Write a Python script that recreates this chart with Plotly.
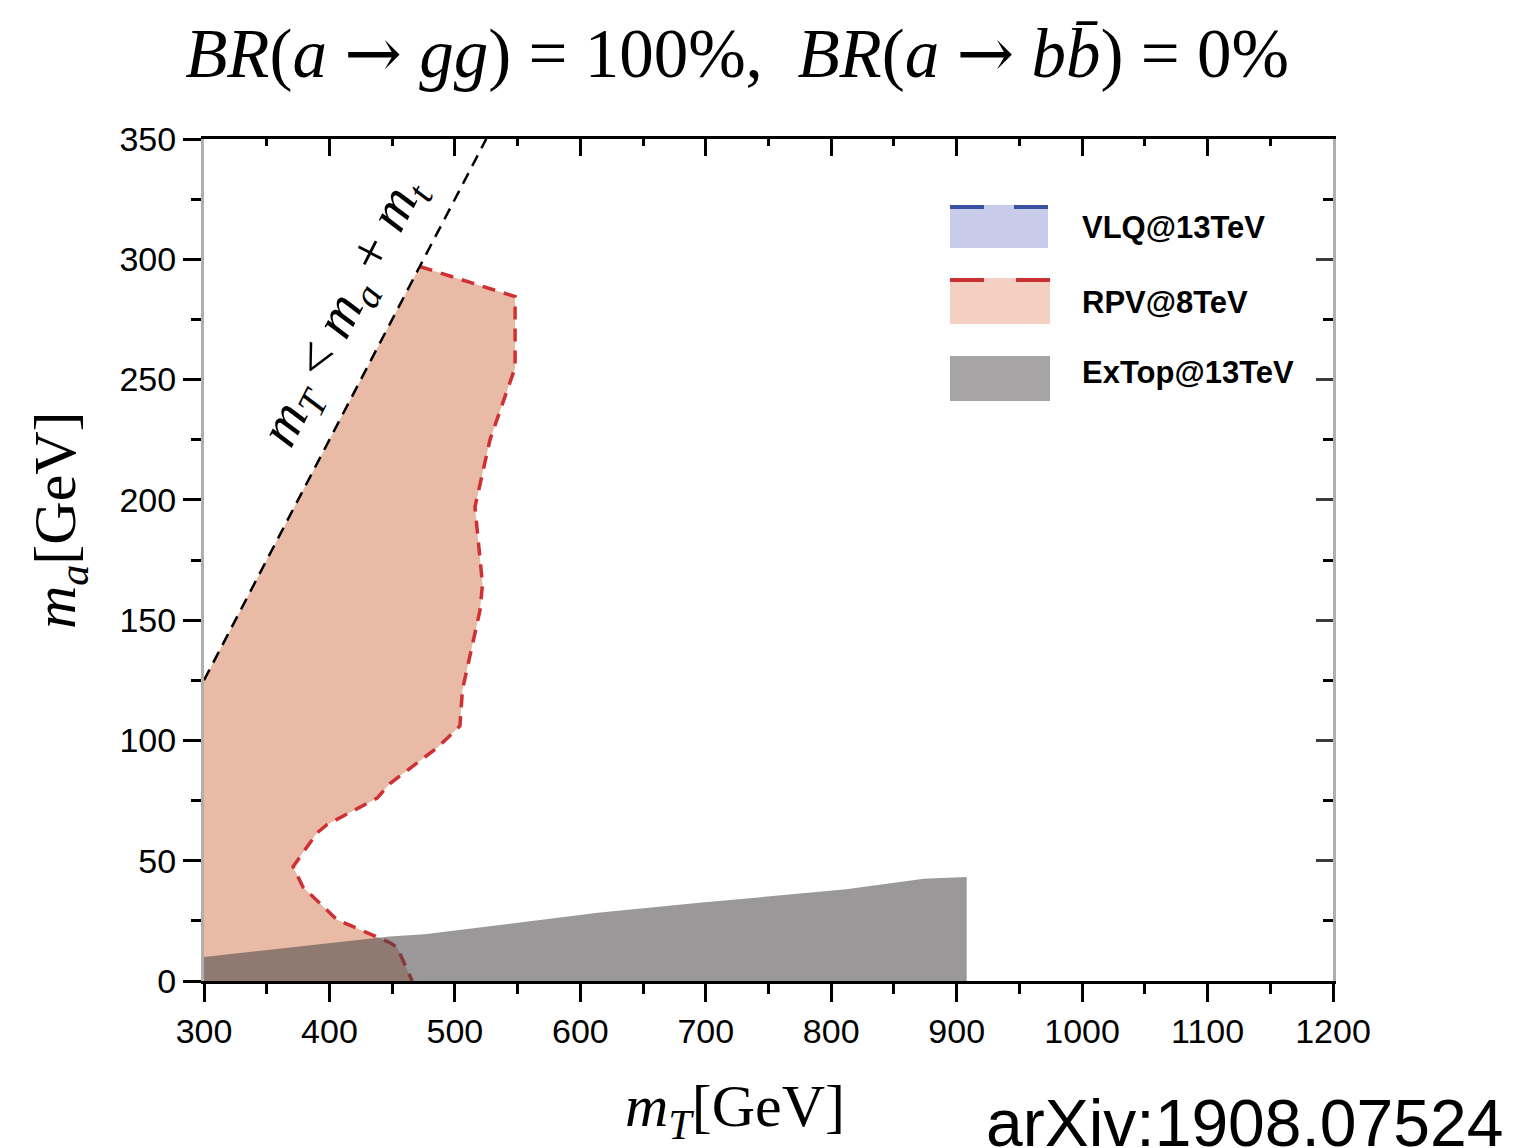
import plotly.graph_objects as go

# ---------------- data ----------------
# kinematic boundary m_T = m_a + m_t (black dashed)
kin_mT = [300, 525]
kin_ma = [125, 350]

# RPV@8TeV exclusion boundary (red dashed), from the kinematic line down to the axis
rpv_mT = [472, 496, 548, 548, 528, 516, 522, 520, 506, 504, 486, 448, 438, 398, 390, 371, 379, 406, 430, 448, 454, 466]
rpv_ma = [297, 293, 284.5, 255, 225, 197, 165, 154, 121, 106, 97, 82, 76, 65, 61.5, 47.5, 39, 25.5, 20, 16, 14, 0]
# corner of the region at the lower-left of the plot
corner_mT = [300]
corner_ma = [0]

# ExTop@13TeV exclusion (grey), upper edge
ex_mT = [300, 448, 476, 549, 614, 697, 812, 874, 908]
ex_ma = [10, 18.5, 19.4, 24.2, 28.4, 32.6, 38.1, 42.5, 43.2]

x_ticks = [300, 400, 500, 600, 700, 800, 900, 1000, 1100, 1200]
y_ticks = [0, 50, 100, 150, 200, 250, 300, 350]

legend_names = ["VLQ@13TeV", "RPV@8TeV", "ExTop@13TeV"]

# ---------------- figure ----------------
W, H = 1517, 1148
OFF = 8  # page body margin
L, R, T, B = 204, 1333, 139, 981  # plot area in screen pixels


def px(xp):
    return (xp - L) / (R - L)


def py(yp):
    return (B - yp) / (B - T)


RPV_FILL = "rgb(233,186,166)"
RPV_LINE = "rgb(206,48,52)"
GREY = "rgba(71,67,68,0.55)"
SERIF = "Liberation Serif, Times New Roman, serif"
SANS = "Liberation Sans, Arial, sans-serif"

fig = go.Figure()

# RPV region fill
poly_x = rpv_mT + corner_mT + kin_mT[:1]
poly_y = rpv_ma + corner_ma + kin_ma[:1]
fig.add_trace(go.Scatter(x=poly_x, y=poly_y, fill="toself", fillcolor=RPV_FILL,
                         mode="lines", line=dict(width=0), showlegend=False, hoverinfo="skip"))
# RPV dashed boundary
fig.add_trace(go.Scatter(x=rpv_mT, y=rpv_ma, mode="lines",
                         line=dict(color=RPV_LINE, width=3.5, dash="13px,9px"),
                         showlegend=False, hoverinfo="skip"))
# ExTop grey region
fig.add_trace(go.Scatter(x=ex_mT, y=ex_ma, fill="tozeroy", fillcolor=GREY,
                         mode="lines", line=dict(width=0), showlegend=False, hoverinfo="skip"))
# kinematic line
fig.add_trace(go.Scatter(x=kin_mT, y=kin_ma, mode="lines",
                         line=dict(color="black", width=2.5, dash="12px,8px"),
                         showlegend=False, hoverinfo="skip"))
# dummy trace for the mirrored (top/right) axes
fig.add_trace(go.Scatter(x=[None], y=[None], xaxis="x2", yaxis="y2",
                         showlegend=False, hoverinfo="skip"))

tickfont = dict(family=SANS, size=34, color="black")
ARROW = '<span style="font-family:DejaVu Serif">→</span>'

fig.update_layout(
    width=W, height=H,
    margin=dict(l=L - OFF, r=W + OFF - R, t=T - OFF, b=H + OFF - B),
    paper_bgcolor="white", plot_bgcolor="white",
    showlegend=False,
    title=dict(
        text=f"<i>BR</i>(<i>a</i> {ARROW} <i>gg</i>) = 100%,  <i>BR</i>(<i>a</i> {ARROW} <i>b</i><i>b\u0304</i>) = 0%",
        font=dict(family=SERIF, size=69, color="black"),
        x=(737 - OFF) / W, xanchor="center", xref="container",
        y=1 - (53 - OFF) / H, yanchor="middle", yref="container"),
    xaxis=dict(
        range=[300, 1200], tickvals=x_ticks, ticktext=[str(v) for v in x_ticks],
        showgrid=False, zeroline=False,
        showline=True, linecolor="black", linewidth=3,
        ticks="outside", ticklen=18, tickwidth=3, tickcolor="black",
        minor=dict(dtick=50, tick0=300, ticks="outside", ticklen=10, tickwidth=3, tickcolor="black", showgrid=False),
        tickfont=tickfont,
    ),
    yaxis=dict(
        range=[0, 350], tickvals=y_ticks, ticktext=[str(v) for v in y_ticks],
        showgrid=False, zeroline=False,
        showline=True, linecolor="rgb(175,175,175)", linewidth=3,
        ticks="outside", ticklen=18, tickwidth=3, tickcolor="black",
        minor=dict(dtick=25, tick0=0, ticks="outside", ticklen=10, tickwidth=3, tickcolor="black", showgrid=False),
        tickfont=tickfont,
    ),
    xaxis2=dict(
        range=[300, 1200], overlaying="x", side="top", anchor="y2",
        tickvals=x_ticks, showticklabels=False, showgrid=False, zeroline=False,
        showline=True, linecolor="black", linewidth=3,
        ticks="inside", ticklen=17, tickwidth=3, tickcolor="black",
        minor=dict(dtick=50, tick0=300, ticks="inside", ticklen=7, tickwidth=3, tickcolor="black", showgrid=False),
    ),
    yaxis2=dict(
        range=[0, 350], overlaying="y", side="right", anchor="x2",
        tickvals=y_ticks, showticklabels=False, showgrid=False, zeroline=False,
        showline=True, linecolor="rgb(175,175,175)", linewidth=3,
        ticks="inside", ticklen=17, tickwidth=3, tickcolor="rgb(60,60,60)",
        minor=dict(dtick=25, tick0=0, ticks="inside", ticklen=10, tickwidth=3, tickcolor="black", showgrid=False),
    ),
)

# axis titles
fig.add_annotation(text="<i>m</i><sub><i>T</i></sub>[GeV]", xref="paper", yref="paper",
                   x=px(735), y=py(1110), xanchor="center", yanchor="middle", showarrow=False,
                   font=dict(family=SERIF, size=60, color="black"))
fig.add_annotation(text="<i>m</i><sub><i>a</i></sub>[GeV]", xref="paper", yref="paper",
                   x=px(60), y=py(520), xanchor="center", yanchor="middle", showarrow=False,
                   textangle=-90, font=dict(family=SERIF, size=60, color="black"))

# kinematic-line label
fig.add_annotation(
    text="<i>m</i><sub><i>T</i></sub> < <i>m</i><sub><i>a</i></sub> + <i>m</i><sub><i>t</i></sub>",
    xref="paper", yref="paper", x=px(344), y=py(312), xanchor="center", yanchor="middle",
    showarrow=False, textangle=-63,
    font=dict(family=SERIF, size=56, color="black"))

# custom legend
boxes = [
    (950, 1048, 205, 248, "rgb(200,203,234)", "rgb(58,80,160)"),
    (950, 1050, 278, 324, "rgb(243,208,194)", "rgb(200,48,50)"),
    (950, 1050, 356, 401, "rgb(166,164,164)", None),
]
text_y = [227, 302, 372]
for (x0, x1, y0, y1, fc, lc), name, ty in zip(boxes, legend_names, text_y):
    fig.add_shape(type="rect", xref="paper", yref="paper",
                  x0=px(x0), x1=px(x1), y0=py(y1), y1=py(y0),
                  fillcolor=fc, line=dict(width=0), layer="above")
    if lc:
        fig.add_shape(type="line", xref="paper", yref="paper",
                      x0=px(x0), x1=px(x0 + 34), y0=py(y0 + 2), y1=py(y0 + 2),
                      line=dict(color=lc, width=4), layer="above")
        fig.add_shape(type="line", xref="paper", yref="paper",
                      x0=px(x1 - 34), x1=px(x1), y0=py(y0 + 2), y1=py(y0 + 2),
                      line=dict(color=lc, width=4), layer="above")
    fig.add_annotation(text="<b>" + name + "</b>", xref="paper", yref="paper",
                       x=px(1080), y=py(ty), xanchor="left", yanchor="middle", showarrow=False,
                       font=dict(family=SANS, size=31, color="black"))

# arXiv tag
fig.add_annotation(text="arXiv:1908.07524", xref="paper", yref="paper",
                   x=px(1505), y=py(1162), xanchor="right", yanchor="bottom", showarrow=False,
                   font=dict(family=SANS, size=66, color="black"))

fig.write_html("out.html")
